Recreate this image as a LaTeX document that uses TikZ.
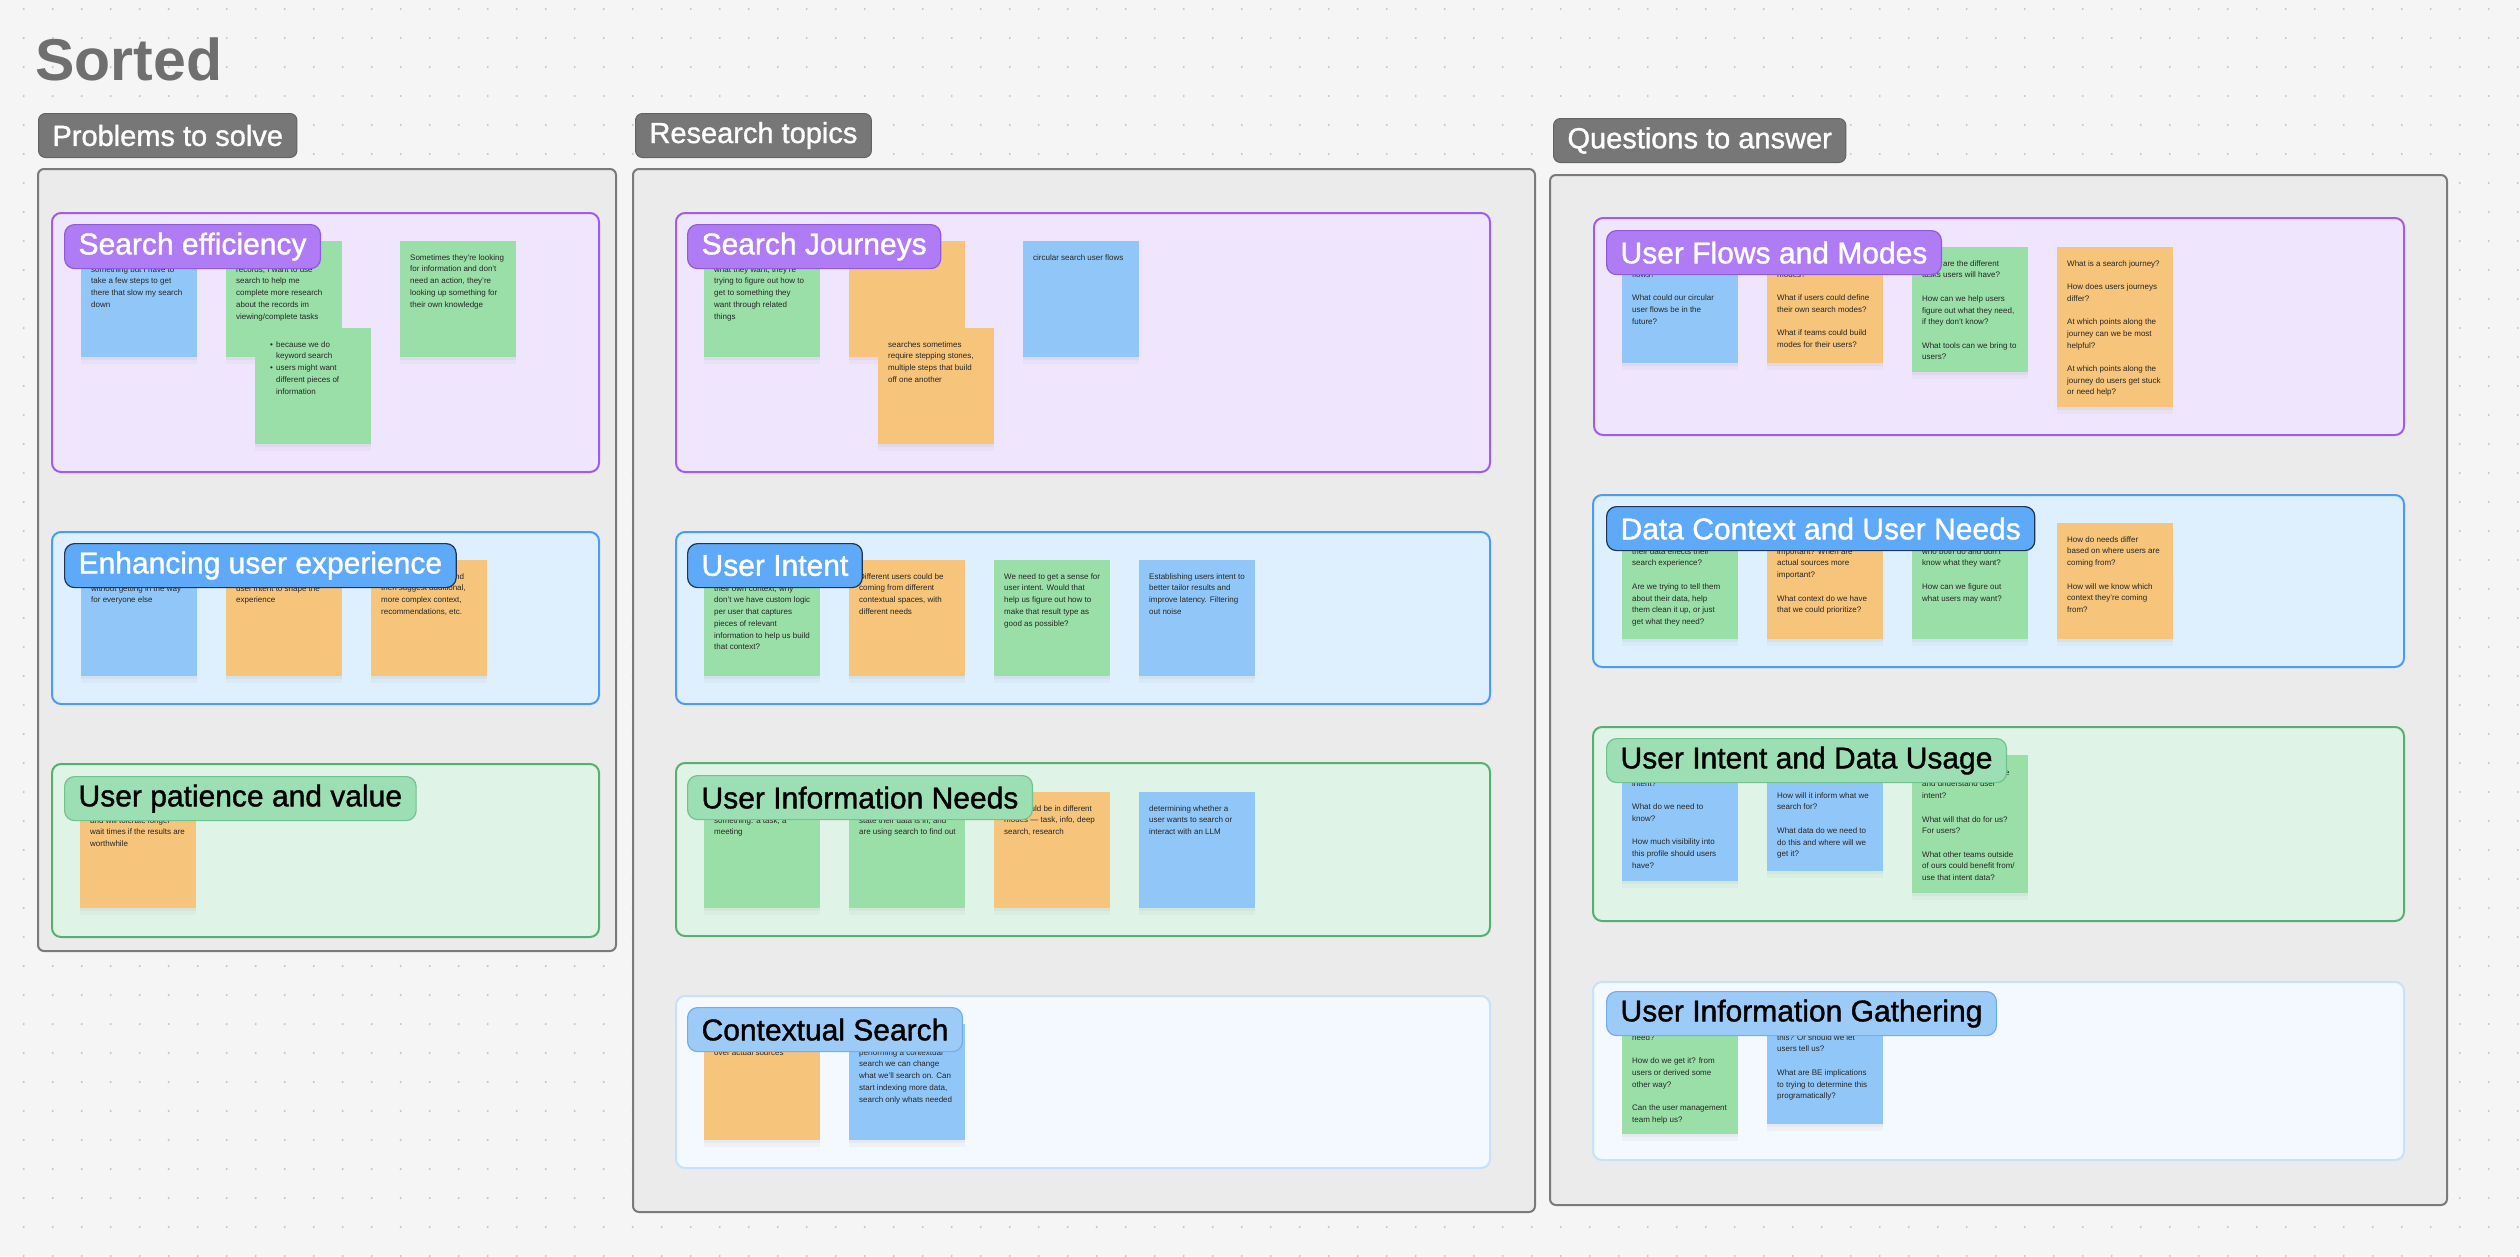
\documentclass[tikz,border=0pt]{standalone}
\usepackage{fontspec}
\setmainfont{Liberation Sans}
\newfontfamily\tagfont[FakeBold=1.2]{Liberation Sans}
\usetikzlibrary{shadows}

\definecolor{boardbg}{HTML}{F5F5F5}
\definecolor{dotc}{HTML}{C4C8CA}
\definecolor{titlegray}{HTML}{6F6F6F}
\definecolor{headfill}{HTML}{777777}
\definecolor{headedge}{HTML}{5F6660}
\definecolor{panelfill}{HTML}{EBEBEB}
\definecolor{paneledge}{HTML}{7A7A7A}
\definecolor{violetedge}{HTML}{A05CF1}
\definecolor{violetfill}{HTML}{EFE5FD}
\definecolor{violettag}{HTML}{B07CF5}
\definecolor{violettagedge}{HTML}{8E5BDB}
\definecolor{blueedge}{HTML}{4C9CF4}
\definecolor{bluefill}{HTML}{DEEFFE}
\definecolor{bluetag}{HTML}{5EA9F8}
\definecolor{bluetagedge}{HTML}{1D3557}
\definecolor{greenedge}{HTML}{56B06F}
\definecolor{greenfill}{HTML}{DFF4E6}
\definecolor{greentag}{HTML}{9CDFB5}
\definecolor{greentagedge}{HTML}{73C18E}
\definecolor{paleedge}{HTML}{C5E1FB}
\definecolor{palefill}{HTML}{F4F9FF}
\definecolor{paletag}{HTML}{9CCBF7}
\definecolor{paletagedge}{HTML}{72AEE8}
\definecolor{noteblue}{HTML}{91C7F8}
\definecolor{notegreen}{HTML}{9BDFA8}
\definecolor{noteorange}{HTML}{F6C57B}
\definecolor{notetext}{HTML}{262626}

% sticky: name, colour, x, y, height, first baseline, text
\newcommand{\sticky}[7]{%
  \node[stickynote, fill=#2, minimum height=#5pt] (#1) at (#3,#4) {};
  \node[stickytext] (#1t) at (#3+10,#6-6) {\rule{0pt}{6pt}#7};}
\newcommand{\bitem}{\hspace*{5pt}\makebox[6pt][l]{\textbullet}}
\newcommand{\bcont}{\hspace*{11pt}}

\begin{document}
\begin{tikzpicture}[x=1pt, y=-1pt, line join=round,
  stickynote/.style={rectangle, anchor=north west, minimum width=116pt, inner sep=0pt, outer sep=0pt,
    drop shadow={opacity=0.05, shadow xshift=0pt, shadow yshift=-7pt},
    drop shadow={opacity=0.07, shadow xshift=0pt, shadow yshift=-3pt}},
  stickytext/.style={anchor=north west, inner sep=0pt, align=left, text=notetext, font=\fontsize{8}{11.7}\selectfont},
  tag/.style={anchor=north west, rounded corners=10pt, minimum height=44pt, inner xsep=14pt, inner ysep=0pt,
    line width=1.2pt, font=\tagfont\fontsize{30}{36}\selectfont},
  vtag/.style={tag, fill=violettag, draw=violettagedge, text=white},
  btag/.style={tag, fill=bluetag, draw=bluetagedge, text=white},
  gtag/.style={tag, fill=greentag, draw=greentagedge, text=black},
  ptag/.style={tag, fill=paletag, draw=paletagedge, text=black},
  colhead/.style={anchor=north west, fill=headfill, draw=headedge, rounded corners=7pt, minimum height=44pt,
    inner xsep=14pt, inner ysep=0pt, line width=1pt, text=white, font=\tagfont\fontsize{29}{34}\selectfont},
  panel/.style={fill=panelfill, draw=paneledge, line width=2pt, rounded corners=6pt},
  grp/.style={rounded corners=9pt, line width=2pt},
  vgrp/.style={grp, draw=violetedge, fill=violetfill},
  bgrp/.style={grp, draw=blueedge, fill=bluefill},
  ggrp/.style={grp, draw=greenedge, fill=greenfill},
  pgrp/.style={grp, draw=paleedge, fill=palefill}]
\useasboundingbox (0,0) rectangle (2520,1256);
\fill[boardbg] (0,0) rectangle (2520,1256);
\foreach \i in {-1,...,86}{\foreach \j in {0,...,43}{\fill[dotc] (23.7+\i*29,9+\j*29) circle (1.2pt);}}

\node[anchor=base west, inner sep=0pt, text=titlegray, font=\bfseries\fontsize{59}{70}\selectfont] (title) at (35,80) {Sorted};

\node[colhead] (problems) at (38,113) {Problems to solve};
\node[colhead] (research) at (635,113) {Research topics};
\node[colhead] (questions) at (1553,118) {Questions to answer};

\draw[panel] (38,169) rectangle (616,951);
\draw[panel] (633,169) rectangle (1535,1212);
\draw[panel] (1550,175) rectangle (2447,1205);

% problems to solve
\draw[vgrp] (52,213) rectangle (599,472);
\sticky{se1}{noteblue}{81}{241}{116}{272}{something but I have to\\take a few steps to get\\there that slow my search\\down}
\sticky{se2}{notegreen}{226}{241}{116}{272}{records, I want to use\\search to help me\\complete more research\\about the records im\\viewing/complete tasks}
\sticky{se3}{notegreen}{255}{328}{116}{347}{\bitem because we do\\\bcont keyword search\\\bitem users might want\\\bcont different pieces of\\\bcont information}
\sticky{se4}{notegreen}{400}{241}{116}{260}{Sometimes they're looking\\for information and don't\\need an action, they're\\looking up something for\\their own knowledge}
\node[vtag] (searcheff) at (64,224) {Search efficiency};

\draw[bgrp] (52,532) rectangle (599,704);
\sticky{eu1}{noteblue}{81}{560}{116}{591}{without getting in the way\\for everyone else}
\sticky{eu2}{noteorange}{226}{560}{116}{591}{user intent to shape the\\experience}
\sticky{eu3}{noteorange}{371}{560}{116}{579}{\hspace*{74pt}nd\\then suggest additional,\\more complex context,\\recommendations, etc.}
\node[btag] (enhancing) at (64,543) {Enhancing user experience};

\draw[ggrp] (52,764) rectangle (599,937);
\sticky{pv1}{noteorange}{80}{792}{116}{823}{and will tolerate longer\\wait times if the results are\\worthwhile}
\node[gtag] (patience) at (64,776) {User patience and value};

% research topics
\draw[vgrp] (676,213) rectangle (1490,472);
\sticky{sj1}{notegreen}{704}{241}{116}{272}{what they want, they're\\trying to figure out how to\\get to something they\\want through related\\things}
\sticky{sj2}{noteorange}{849}{241}{116}{260}{}
\sticky{sj3}{noteorange}{878}{328}{116}{347}{searches sometimes\\require stepping stones,\\multiple steps that build\\off one another}
\sticky{sj4}{noteblue}{1023}{241}{116}{260}{circular search user flows}
\node[vtag] (journeys) at (687,224) {Search Journeys};

\draw[bgrp] (676,532) rectangle (1490,704);
\sticky{ui1}{notegreen}{704}{560}{116}{591}{their own context, why\\don't we have custom logic\\per user that captures\\pieces of relevant\\information to help us build\\that context?}
\sticky{ui2}{noteorange}{849}{560}{116}{579}{Different users could be\\coming from different\\contextual spaces, with\\different needs}
\sticky{ui3}{notegreen}{994}{560}{116}{579}{We need to get a sense for\\user intent. Would that\\help us figure out how to\\make that result type as\\good as possible?}
\sticky{ui4}{noteblue}{1139}{560}{116}{579}{Establishing users intent to\\better tailor results and\\improve latency. Filtering\\out noise}
\node[btag] (intent) at (687,543) {User Intent};

\draw[ggrp] (676,763) rectangle (1490,936);
\sticky{in1}{notegreen}{704}{792}{116}{823}{something: a task, a\\meeting}
\sticky{in2}{notegreen}{849}{792}{116}{823}{state their data is in, and\\are using search to find out}
\sticky{in3}{noteorange}{994}{792}{116}{811}{\hspace*{22pt}ould be in different\\modes — task, info, deep\\search, research}
\sticky{in4}{noteblue}{1139}{792}{116}{811}{determining whether a\\user wants to search or\\interact with an LLM}
\node[gtag] (infoneeds) at (687,775) {User Information Needs};

\draw[pgrp] (676,996) rectangle (1490,1168);
\sticky{cs1}{noteorange}{704}{1024}{116}{1055}{over actual sources}
\sticky{cs2}{noteblue}{849}{1024}{116}{1055}{performing a contextual\\search we can change\\what we'll search on. Can\\start indexing more data,\\search only whats needed}
\node[ptag] (contextual) at (687,1007) {Contextual Search};

% questions to answer
\draw[vgrp] (1594,218) rectangle (2404,435);
\sticky{fm1}{noteblue}{1622}{247}{116}{277}{flows?\\[11.7pt]What could our circular\\user flows be in the\\future?}
\sticky{fm2}{noteorange}{1767}{247}{116}{277}{modes?\\[11.7pt]What if users could define\\their own search modes?\\[11.7pt]What if teams could build\\modes for their users?}
\sticky{fm3}{notegreen}{1912}{247}{125}{266}{What are the different\\tasks users will have?\\[11.7pt]How can we help users\\figure out what they need,\\if they don't know?\\[11.7pt]What tools can we bring to\\users?}
\sticky{fm4}{noteorange}{2057}{247}{160}{266}{What is a search journey?\\[11.7pt]How does users journeys\\differ?\\[11.7pt]At which points along the\\journey can we be most\\helpful?\\[11.7pt]At which points along the\\journey do users get stuck\\or need help?}
\node[vtag] (flows) at (1606,230) {User Flows and Modes};

\draw[bgrp] (1593,495) rectangle (2404,667);
\sticky{dc1}{notegreen}{1622}{523}{116}{554}{their data effects their\\search experience?\\[11.7pt]Are we trying to tell them\\about their data, help\\them clean it up, or just\\get what they need?}
\sticky{dc2}{noteorange}{1767}{523}{116}{554}{important? When are\\actual sources more\\important?\\[11.7pt]What context do we have\\that we could prioritize?}
\sticky{dc3}{notegreen}{1912}{523}{116}{554}{who both do and don't\\know what they want?\\[11.7pt]How can we figure out\\what users may want?}
\sticky{dc4}{noteorange}{2057}{523}{116}{542}{How do needs differ\\based on where users are\\coming from?\\[11.7pt]How will we know which\\context they're coming\\from?}
\node[btag] (datactx) at (1606,506) {Data Context and User Needs};

\draw[ggrp] (1593,727) rectangle (2404,921);
\sticky{du1}{noteblue}{1622}{755}{126}{786}{intent?\\[11.7pt]What do we need to\\know?\\[11.7pt]How much visibility into\\this profile should users\\have?}
\sticky{du2}{noteblue}{1767}{755}{116}{798}{How will it inform what we\\search for?\\[11.7pt]What data do we need to\\do this and where will we\\get it?}
\sticky{du3}{notegreen}{1912}{755}{138}{775}{\hspace*{83pt}e\\and understand user\\intent?\\[11.7pt]What will that do for us?\\For users?\\[11.7pt]What other teams outside\\of ours could benefit from/\\use that intent data?}
\node[gtag] (intentdata) at (1606,738) {User Intent and Data Usage};

\draw[pgrp] (1593,982) rectangle (2404,1160);
\sticky{ig1}{notegreen}{1622}{1010}{124}{1040}{need?\\[11.7pt]How do we get it? from\\users or derived some\\other way?\\[11.7pt]Can the user management\\team help us?}
\sticky{ig2}{noteblue}{1767}{1010}{114}{1040}{this? Or should we let\\users tell us?\\[11.7pt]What are BE implications\\to trying to determine this\\programatically?}
\node[ptag] (gathering) at (1606,991) {User Information Gathering};
\end{tikzpicture}
\end{document}
